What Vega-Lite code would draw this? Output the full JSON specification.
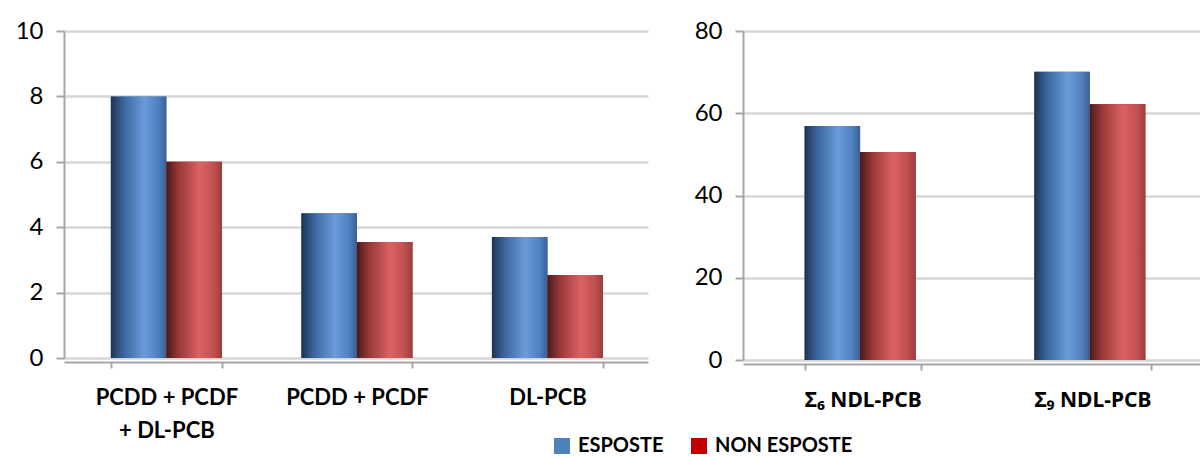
{
  "$schema": "https://vega.github.io/schema/vega-lite/v6.json",
  "padding": {"left": 15, "top": 19, "right": 0, "bottom": 0},
  "autosize": {"type": "pad"},
  "background": "white",
  "config": {
    "font": "Lato",
    "view": {"stroke": null},
    "axisY": {
      "domainColor": "#a6a6a6", "domainWidth": 2,
      "tickColor": "#a6a6a6", "tickWidth": 2, "tickSize": 8,
      "labelFontSize": 24, "labelColor": "#000000", "labelPadding": 13,
      "gridColor": "#d6d6d6", "gridWidth": 2.5, "title": null
    },
    "axisX": {
      "domainColor": "#a6a6a6", "domainWidth": 2,
      "tickColor": "#a6a6a6", "tickWidth": 2, "tickSize": 6,
      "labelFontSize": 22, "labelFontWeight": "bold", "labelColor": "#000000",
      "labelPadding": 19, "labelAngle": 0, "labelLineHeight": 33,
      "grid": false, "title": null, "offset": 4, "tickBand": "extent"
    },
    "legend": {
      "orient": "none", "legendX": 488, "legendY": 405,
      "direction": "horizontal", "title": null,
      "symbolType": "square", "symbolSize": 256, "symbolStrokeWidth": 0,
      "labelFontSize": 20, "labelFontWeight": "bold", "labelColor": "#000000",
      "labelOffset": 6, "columnPadding": 25, "padding": 0
    }
  },
  "datasets": {
    "dioxins": [
      {"cat": "PCDD + PCDF + DL-PCB", "grp": "ESPOSTE", "val": 8.0},
      {"cat": "PCDD + PCDF + DL-PCB", "grp": "NON ESPOSTE", "val": 6.0},
      {"cat": "PCDD + PCDF", "grp": "ESPOSTE", "val": 4.43},
      {"cat": "PCDD + PCDF", "grp": "NON ESPOSTE", "val": 3.55},
      {"cat": "DL-PCB", "grp": "ESPOSTE", "val": 3.7},
      {"cat": "DL-PCB", "grp": "NON ESPOSTE", "val": 2.54}
    ],
    "ndl": [
      {"cat": "Σ₆ NDL-PCB", "grp": "ESPOSTE", "val": 56.9},
      {"cat": "Σ₆ NDL-PCB", "grp": "NON ESPOSTE", "val": 50.6},
      {"cat": "Σ₉ NDL-PCB", "grp": "ESPOSTE", "val": 70.1},
      {"cat": "Σ₉ NDL-PCB", "grp": "NON ESPOSTE", "val": 62.2}
    ]
  },
  "spacing": 46,
  "hconcat": [
    {
      "width": 584,
      "height": 327,
      "data": {"name": "dioxins"},
      "encoding": {
        "x": {
          "field": "cat", "type": "nominal", "sort": null,
          "scale": {"paddingInner": 0.417, "paddingOuter": 0.241, "align": 0.51},
          "axis": {
            "labelExpr": "datum.value == 'PCDD + PCDF + DL-PCB' ? ['PCDD + PCDF', '+ DL-PCB'] : datum.value"
          }
        },
        "xOffset": {"field": "grp", "type": "nominal", "sort": ["ESPOSTE", "NON ESPOSTE"]},
        "y": {
          "field": "val", "type": "quantitative",
          "scale": {"domain": [0, 10], "nice": false},
          "axis": {"values": [0, 2, 4, 6, 8, 10]}
        }
      },
      "layer": [
        {
          "mark": {"type": "bar"},
          "encoding": {
            "color": {
              "field": "grp", "type": "nominal",
              "scale": {"domain": ["ESPOSTE", "NON ESPOSTE"], "range": ["#4f81bd", "#c00000"]}
            }
          }
        },
        {
          "mark": {"type": "bar"},
          "encoding": {
            "fill": {
              "condition": {
                "test": "datum.grp === 'ESPOSTE'",
                "value": {"gradient": "linear", "x1": 0, "y1": 0, "x2": 1, "y2": 0,
                  "stops": [
                    {"offset": 0, "color": "#1e3252"},
                    {"offset": 0.22, "color": "#3b649c"},
                    {"offset": 0.6, "color": "#6a9bda"},
                    {"offset": 0.86, "color": "#4f7fbf"},
                    {"offset": 1, "color": "#3a5f92"}
                  ]}
              },
              "value": {"gradient": "linear", "x1": 0, "y1": 0, "x2": 1, "y2": 0,
                "stops": [
                  {"offset": 0, "color": "#4a1a1a"},
                  {"offset": 0.22, "color": "#983838"},
                  {"offset": 0.6, "color": "#dc6262"},
                  {"offset": 0.86, "color": "#c04f4f"},
                  {"offset": 1, "color": "#9a3d3d"}
                ]}
            }
          }
        }
      ]
    },
    {
      "width": 459,
      "height": 329,
      "data": {"name": "ndl"},
      "encoding": {
        "x": {
          "field": "cat", "type": "nominal", "sort": null,
          "scale": {"paddingInner": 0.4935, "paddingOuter": 0.246, "align": 0.545},
          "axis": {"labelFont": "Noto Sans", "labelFontSize": 21}
        },
        "xOffset": {"field": "grp", "type": "nominal", "sort": ["ESPOSTE", "NON ESPOSTE"]},
        "y": {
          "field": "val", "type": "quantitative",
          "scale": {"domain": [0, 80], "nice": false},
          "axis": {"values": [0, 20, 40, 60, 80]}
        }
      },
      "layer": [
        {
          "mark": {"type": "bar"},
          "encoding": {
            "color": {
              "field": "grp", "type": "nominal",
              "scale": {"domain": ["ESPOSTE", "NON ESPOSTE"], "range": ["#4f81bd", "#c00000"]}
            }
          }
        },
        {
          "mark": {"type": "bar"},
          "encoding": {
            "fill": {
              "condition": {
                "test": "datum.grp === 'ESPOSTE'",
                "value": {"gradient": "linear", "x1": 0, "y1": 0, "x2": 1, "y2": 0,
                  "stops": [
                    {"offset": 0, "color": "#1e3252"},
                    {"offset": 0.22, "color": "#3b649c"},
                    {"offset": 0.6, "color": "#6a9bda"},
                    {"offset": 0.86, "color": "#4f7fbf"},
                    {"offset": 1, "color": "#3a5f92"}
                  ]}
              },
              "value": {"gradient": "linear", "x1": 0, "y1": 0, "x2": 1, "y2": 0,
                "stops": [
                  {"offset": 0, "color": "#4a1a1a"},
                  {"offset": 0.22, "color": "#983838"},
                  {"offset": 0.6, "color": "#dc6262"},
                  {"offset": 0.86, "color": "#c04f4f"},
                  {"offset": 1, "color": "#9a3d3d"}
                ]}
            }
          }
        }
      ]
    }
  ]
}
